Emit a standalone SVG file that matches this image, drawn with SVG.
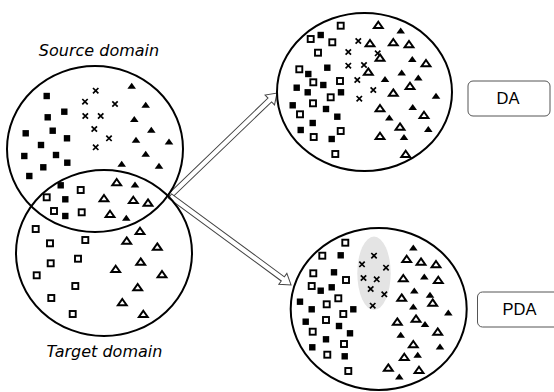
<svg xmlns="http://www.w3.org/2000/svg" width="554" height="392" viewBox="0 0 554 392">
<style>
.dom{fill:none;stroke:#000;stroke-width:2}
.arr{fill:#fff;stroke:#444;stroke-width:1;stroke-linejoin:miter}
.box{fill:#fff;stroke:#555;stroke-width:1}
.lbl{font-family:"DejaVu Sans",sans-serif;font-style:oblique;font-size:16px;fill:#000;text-anchor:middle}
.btxt{font-family:"Liberation Sans",Arial,sans-serif;font-size:16.5px;fill:#000;text-anchor:middle}
.fsq{fill:#000}
.hsq{fill:#fff;stroke:#000;stroke-width:1.9}
.ftri{fill:#000}
.htri{fill:#fff;stroke:#000;stroke-width:2;stroke-linejoin:miter}
.crs{fill:none;stroke:#000;stroke-width:1.7}
</style>
<defs>
<rect id="fs" class="fsq" x="-3.2" y="-3.2" width="6.4" height="6.4"/>
<rect id="hs" class="hsq" x="-3" y="-3" width="6" height="6"/>
<polygon id="ft" class="ftri" points="0,-3.2 4.3,2.7 -4.3,2.7"/>
<polygon id="ht" class="htri" points="0,-3.3 4.4,3 -4.4,3"/>
<path id="cx" class="crs" d="M-2.7,-2.7L2.7,2.7M2.7,-2.7L-2.7,2.7"/>
</defs>
<rect width="554" height="392" fill="#fff"/>

<g id="connectors">
<polygon class="arr" transform="translate(170,196) rotate(-43.9)" points="0,-2.6 138.5,-2.6 138.5,-6.8 148.5,0 138.5,6.8 138.5,2.6 0,2.6"/>
<polygon class="arr" transform="translate(170,196) rotate(36.3)" points="0,-2.6 140,-2.6 140,-6.8 150.2,0 140,6.8 140,2.6 0,2.6"/>
</g>

<g id="source-domain">
<ellipse class="dom" cx="95" cy="149" rx="88" ry="83"/>
<text class="lbl" x="99" y="56">Source domain</text>
<use href="#fs" x="46.7" y="96"/><use href="#fs" x="64.3" y="111.7"/><use href="#fs" x="47.7" y="117.3"/>
<use href="#fs" x="52.7" y="130.7"/><use href="#fs" x="25.7" y="133.3"/><use href="#fs" x="67" y="138.3"/>
<use href="#fs" x="41" y="145"/><use href="#fs" x="24.3" y="156"/><use href="#fs" x="56" y="155"/>
<use href="#fs" x="67.3" y="162.7"/><use href="#fs" x="43.3" y="167.3"/><use href="#fs" x="29.3" y="176"/>
<use href="#fs" x="60.7" y="185.3"/><use href="#fs" x="65.3" y="199.3"/><use href="#fs" x="65.3" y="216"/>
<use href="#cx" x="95.7" y="90.7"/><use href="#cx" x="85" y="101.7"/><use href="#cx" x="115" y="104"/>
<use href="#cx" x="85.3" y="116"/><use href="#cx" x="100.7" y="116"/><use href="#cx" x="94.3" y="129"/>
<use href="#cx" x="109" y="138.3"/><use href="#cx" x="95.7" y="147.3"/>
<use href="#ft" x="131.7" y="86"/><use href="#ft" x="145.7" y="105"/><use href="#ft" x="134.3" y="119.3"/>
<use href="#ft" x="151.3" y="130"/><use href="#ft" x="136" y="140"/><use href="#ft" x="169" y="141.7"/>
<use href="#ft" x="145.7" y="154"/><use href="#ft" x="121.7" y="164"/><use href="#ft" x="159" y="166"/>
<use href="#ft" x="135" y="184.7"/><use href="#ft" x="126.3" y="218"/>
</g>

<g id="target-domain">
<ellipse class="dom" cx="104" cy="253" rx="88" ry="83"/>
<text class="lbl" x="104.5" y="357">Target domain</text>
<use href="#hs" x="46.7" y="197.3"/><use href="#hs" x="80.7" y="190"/><use href="#hs" x="54" y="211"/>
<use href="#hs" x="81.7" y="212.3"/><use href="#hs" x="35.7" y="229"/><use href="#hs" x="50" y="243.3"/>
<use href="#hs" x="85.3" y="240"/><use href="#hs" x="50.7" y="263.3"/><use href="#hs" x="78" y="258.7"/>
<use href="#hs" x="36.7" y="275.3"/><use href="#hs" x="75.3" y="286"/><use href="#hs" x="51.3" y="298"/>
<use href="#hs" x="72.7" y="314"/>
<use href="#ht" x="116.7" y="182.3"/><use href="#ht" x="104" y="198.3"/><use href="#ht" x="133.3" y="200"/>
<use href="#ht" x="148" y="202.7"/><use href="#ht" x="110" y="214"/><use href="#ht" x="140" y="231"/>
<use href="#ht" x="126.7" y="240.7"/><use href="#ht" x="157.3" y="246.7"/><use href="#ht" x="140.7" y="261.7"/>
<use href="#ht" x="115.7" y="269"/><use href="#ht" x="162" y="274.3"/><use href="#ht" x="137.7" y="287.3"/>
<use href="#ht" x="122.3" y="302.3"/><use href="#ht" x="143.3" y="314"/>
</g>

<g id="da-domain">
<ellipse class="dom" cx="364.5" cy="92" rx="87.5" ry="79"/>
<use href="#hs" x="340.7" y="25.7"/><use href="#hs" x="310.7" y="39"/><use href="#hs" x="332.3" y="42.3"/>
<use href="#hs" x="318" y="52.7"/><use href="#hs" x="299.3" y="69.3"/><use href="#hs" x="313.3" y="82.3"/>
<use href="#hs" x="340" y="81"/><use href="#hs" x="330.7" y="97.3"/><use href="#hs" x="313" y="103.3"/>
<use href="#hs" x="300" y="114.3"/><use href="#hs" x="340.7" y="131"/><use href="#hs" x="313.7" y="137"/>
<use href="#hs" x="335.3" y="154"/>
<use href="#fs" x="320.7" y="35"/><use href="#fs" x="327.3" y="67.7"/><use href="#fs" x="308.3" y="74"/>
<use href="#fs" x="323.3" y="85"/><use href="#fs" x="296.7" y="87.7"/><use href="#fs" x="307.7" y="92.3"/>
<use href="#fs" x="341" y="92.3"/><use href="#fs" x="292.7" y="105.3"/><use href="#fs" x="326" y="109"/>
<use href="#fs" x="337.3" y="116.7"/><use href="#fs" x="312.7" y="123"/><use href="#fs" x="300.7" y="130"/>
<use href="#fs" x="331.7" y="139"/>
<use href="#cx" x="358.3" y="41"/><use href="#cx" x="348.3" y="52"/><use href="#cx" x="377.7" y="53.3"/>
<use href="#cx" x="348.3" y="65.7"/><use href="#cx" x="364" y="65"/><use href="#cx" x="357.3" y="80"/>
<use href="#cx" x="373.3" y="90"/><use href="#cx" x="359.3" y="98.7"/>
<use href="#ht" x="378.3" y="25"/><use href="#ht" x="370" y="43.3"/><use href="#ht" x="393.3" y="42.3"/>
<use href="#ht" x="409" y="44.3"/><use href="#ht" x="380" y="57.7"/><use href="#ht" x="426" y="63.3"/>
<use href="#ht" x="368.3" y="71.7"/><use href="#ht" x="410" y="86"/><use href="#ht" x="393.3" y="92.7"/>
<use href="#ht" x="380" y="108.3"/><use href="#ht" x="424" y="115"/><use href="#ht" x="400" y="126.7"/>
<use href="#ht" x="380" y="136"/><use href="#ht" x="405.7" y="154"/>
<use href="#ft" x="400.7" y="30.7"/><use href="#ft" x="412.3" y="59.3"/><use href="#ft" x="401.7" y="72.7"/>
<use href="#ft" x="385" y="79.3"/><use href="#ft" x="418.3" y="77.7"/><use href="#ft" x="436" y="96"/>
<use href="#ft" x="412.7" y="107.3"/><use href="#ft" x="389.3" y="117.7"/><use href="#ft" x="428.3" y="129.3"/>
<use href="#ft" x="404" y="137.3"/>
</g>

<g id="pda-domain">
<ellipse class="dom" cx="378.7" cy="309" rx="88" ry="81"/>
<ellipse cx="374" cy="273.3" rx="16.7" ry="36.7" fill="#e4e4e4"/>
<use href="#hs" x="345.3" y="242.7"/><use href="#hs" x="322.3" y="255.7"/><use href="#hs" x="313.3" y="273.3"/>
<use href="#hs" x="346" y="280"/><use href="#hs" x="311.7" y="286"/><use href="#hs" x="338.3" y="298.3"/>
<use href="#hs" x="326.7" y="304.3"/><use href="#hs" x="343.3" y="314"/><use href="#hs" x="326" y="320"/>
<use href="#hs" x="312.7" y="331.7"/><use href="#hs" x="344" y="344"/><use href="#hs" x="327.3" y="354.7"/>
<use href="#hs" x="348.3" y="371"/>
<use href="#fs" x="340.7" y="255.3"/><use href="#fs" x="334" y="272.3"/><use href="#fs" x="320.7" y="290.7"/>
<use href="#fs" x="331.7" y="287.3"/><use href="#fs" x="300" y="301.7"/><use href="#fs" x="311.7" y="309.3"/>
<use href="#fs" x="353.3" y="309.3"/><use href="#fs" x="305.7" y="321.7"/><use href="#fs" x="339" y="326"/>
<use href="#fs" x="350" y="333.3"/><use href="#fs" x="326" y="339.3"/><use href="#fs" x="312.3" y="347.3"/>
<use href="#fs" x="344.7" y="356.3"/>
<use href="#cx" x="374" y="255.7"/><use href="#cx" x="362" y="264.3"/><use href="#cx" x="386" y="267.7"/>
<use href="#cx" x="363.5" y="278"/><use href="#cx" x="376.7" y="279.3"/><use href="#cx" x="370.7" y="289"/>
<use href="#cx" x="384.3" y="294.3"/><use href="#cx" x="372.7" y="305.7"/>
<use href="#ht" x="406.7" y="259"/><use href="#ht" x="421" y="261.7"/><use href="#ht" x="436" y="264.3"/>
<use href="#ht" x="403.3" y="278.3"/><use href="#ht" x="438.3" y="280"/><use href="#ht" x="401.7" y="297.7"/>
<use href="#ht" x="432.7" y="302.7"/><use href="#ht" x="397.3" y="321.7"/><use href="#ht" x="416" y="318.7"/>
<use href="#ht" x="437.7" y="331.7"/><use href="#ht" x="413.3" y="344.3"/><use href="#ht" x="404.3" y="357"/>
<use href="#ht" x="388.3" y="367.7"/><use href="#ht" x="419" y="370"/>
<use href="#ft" x="413.3" y="247.7"/><use href="#ft" x="424.3" y="276.7"/><use href="#ft" x="414.3" y="290.7"/>
<use href="#ft" x="430" y="295"/><use href="#ft" x="413.3" y="306.7"/><use href="#ft" x="448.3" y="312.7"/>
<use href="#ft" x="425" y="324.3"/><use href="#ft" x="400.7" y="335"/><use href="#ft" x="440" y="346.7"/>
<use href="#ft" x="417.7" y="355"/><use href="#ft" x="399.3" y="376.7"/>
</g>

<g id="da-label">
<rect class="box" x="468" y="81" width="82" height="35" rx="5"/>
<text class="btxt" x="508" y="104">DA</text>
</g>

<g id="pda-label">
<rect class="box" x="477.5" y="292" width="84" height="35" rx="5"/>
<text class="btxt" x="519.5" y="315">PDA</text>
</g>
</svg>
